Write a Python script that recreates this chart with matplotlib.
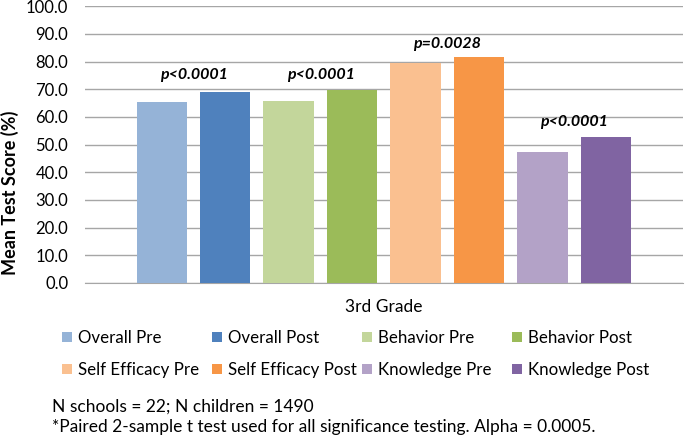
import matplotlib
matplotlib.use("Agg")
import matplotlib.pyplot as plt
from matplotlib.patches import Patch

plt.rcParams['font.family'] = ['Lato', 'DejaVu Sans']

labels = ["Overall Pre", "Overall Post", "Behavior Pre", "Behavior Post",
          "Self Efficacy Pre", "Self Efficacy Post", "Knowledge Pre", "Knowledge Post"]
values = [65.2, 69.1, 65.6, 69.8, 79.6, 81.7, 47.3, 52.9]
colors = ["#95b3d7", "#4f81bd", "#c3d69b", "#9bbb59",
          "#fac090", "#f79646", "#b3a2c7", "#8064a2"]
pvalue_texts = ["p<0.0001", "p<0.0001", "p=0.0028", "p<0.0001"]
pvalue_y = [75.0, 75.0, 86.5, 58.0]
category = "3rd Grade"
yticks = [0, 10, 20, 30, 40, 50, 60, 70, 80, 90, 100]

W, H = 685, 440
fig = plt.figure(figsize=(6.85, 4.4), dpi=100)
ax = fig.add_axes([0.124, 0.357, 0.873, 0.629])

x = list(range(len(values)))
ax.bar(x, values, width=0.795, color=colors, zorder=3)

for i, (t, yv) in enumerate(zip(pvalue_texts, pvalue_y)):
    ax.text(2 * i + 0.5, yv, t, ha='center', va='center', fontsize=11.5,
            fontweight='bold', fontstyle='italic', color='black')

ax.set_xlim(-1.21, 8.21)
ax.set_ylim(0, 100)
ax.set_yticks(yticks)
ax.set_yticklabels([f"{v:.1f}" for v in yticks], fontsize=12)
ax.set_xticks([])
ax.grid(axis='y', color='#a6a6a6', linewidth=1, zorder=0)
for s in ['top', 'right', 'left']:
    ax.spines[s].set_visible(False)
ax.spines['bottom'].set_color('#a6a6a6')
ax.tick_params(axis='y', length=0, pad=12)

fig.text(10 / W, (H - 193) / H, "Mean Test Score (%)", rotation=90,
         ha='center', va='center', fontsize=13, fontweight='bold')

fig.text(384 / W, (H - 307) / H, category, ha='center', va='center', fontsize=12.5)

col_x = [62, 212, 362, 512]
for c in range(4):
    idx = [c, c + 4]
    handles = [Patch(facecolor=colors[i], label=labels[i]) for i in idx]
    fig.legend(handles=handles, loc='center left',
               bbox_to_anchor=(col_x[c] / W, (H - 354) / H),
               frameon=False, fontsize=12.2, handlelength=0.58, handleheight=0.55,
               handletextpad=0.35, labelspacing=0.95, borderpad=0, borderaxespad=0)

fig.text(52 / W, (H - 407) / H, "N schools = 22; N children = 1490",
         ha='left', va='center', fontsize=12.5)
fig.text(52 / W, (H - 427) / H,
         "*Paired 2-sample t test used for all significance testing. Alpha = 0.0005.",
         ha='left', va='center', fontsize=12.5)

fig.savefig("out.png", dpi=100)
